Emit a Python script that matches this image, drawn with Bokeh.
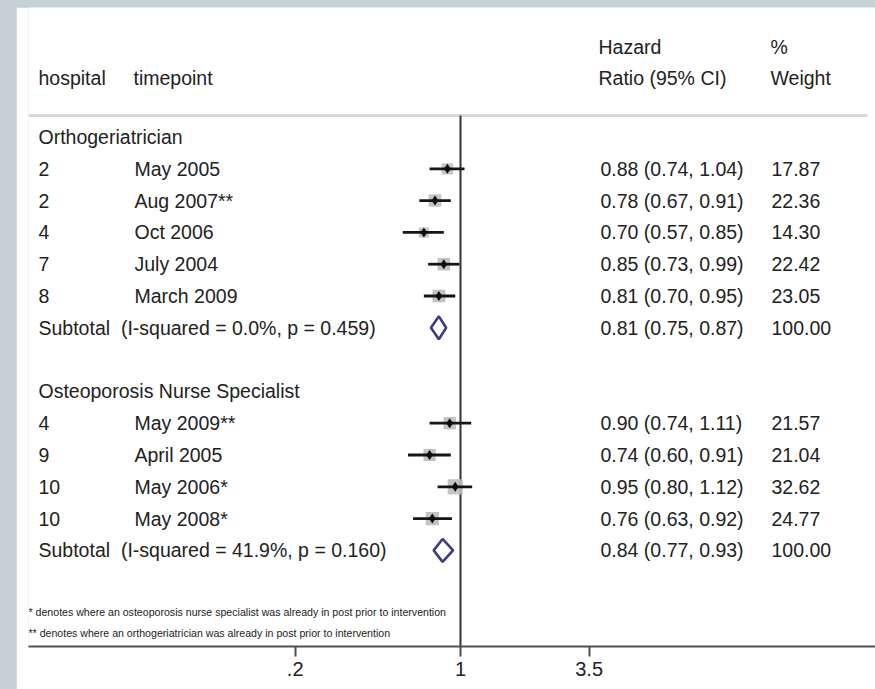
import numpy as np
from bokeh.plotting import figure
from bokeh.models import Range1d, FixedTicker, LinearScale
from bokeh.core.properties import value
from bokeh.embed import file_html
from bokeh.resources import INLINE

# ---------------- data ----------------
group_names = ["Orthogeriatrician", "Osteoporosis Nurse Specialist"]
group_sizes = [5, 4]
hospitals = ["2", "2", "4", "7", "8", "4", "9", "10", "10"]
timepoints = ["May 2005", "Aug 2007**", "Oct 2006", "July 2004", "March 2009",
              "May 2009**", "April 2005", "May 2006*", "May 2008*"]
hr = [0.88, 0.78, 0.70, 0.85, 0.81, 0.90, 0.74, 0.95, 0.76]
lo = [0.74, 0.67, 0.57, 0.73, 0.70, 0.74, 0.60, 0.80, 0.63]
hi = [1.04, 0.91, 0.85, 0.99, 0.95, 1.11, 0.91, 1.12, 0.92]
weights = [17.87, 22.36, 14.30, 22.42, 23.05, 21.57, 21.04, 32.62, 24.77]
sub_hr = [0.81, 0.84]
sub_lo = [0.75, 0.77]
sub_hi = [0.87, 0.93]
sub_i2 = [0.0, 41.9]
sub_p = [0.459, 0.160]
sub_weight = [100.00, 100.00]
tick_values = [0.2, 1, 3.5]
tick_labels = [".2", "1", "3.5"]
footnotes = ["* denotes where an osteoporosis nurse specialist was already in post prior to intervention",
             "** denotes where an orthogeriatrician was already in post prior to intervention"]

# ---------------- layout helpers ----------------
FONT = value("Liberation Sans")
TXT = "#222222"
W, H = 859, 682
OX, OY = 16, 7                 # page offset of the figure (grey border)
FR_L, FR_R, FR_T, FR_B = 28, 875, 7, 646   # frame in page pixels
X1PX, PX_PER_LN = 460.0, 102.7            # pixel of HR=1, pixels per ln unit
ROW0, ROWH = 136.5, 31.8                  # pixel of row 0, row height

def row_of(py):
    return (py - ROW0) / ROWH

x_left = float(np.exp((FR_L - X1PX) / PX_PER_LN))
x_right = float(np.exp((FR_R - X1PX) / PX_PER_LN))

p = figure(width=W, height=H, x_axis_type="log",
           x_range=Range1d(x_left, x_right),
           y_range=Range1d(row_of(FR_B), row_of(FR_T)),
           y_axis_location=None, output_backend="svg", toolbar_location=None,
           min_border_left=FR_L - OX, min_border_right=0, min_border_top=0,
           min_border_bottom=H - (FR_B - OY))
p.extra_x_ranges = {"px": Range1d(FR_L, FR_R)}
p.extra_x_scales = {"px": LinearScale()}
p.extra_y_ranges = {"px": Range1d(FR_B, FR_T)}
p.extra_y_scales = {"px": LinearScale()}
p.outline_line_color = None
p.xgrid.visible = False
p.ygrid.visible = False
p.background_fill_color = "white"
p.border_fill_color = "white"

# row indices
study_rows, sub_rows, title_rows = [], [], []
r = 0
for g, n in enumerate(group_sizes):
    title_rows.append(r)
    r += 1
    for _ in range(n):
        study_rows.append(r)
        r += 1
    sub_rows.append(r)
    r += 2

# header rule + reference line
p.segment(x0=[28], x1=[867], y0=[115], y1=[115], x_range_name="px", y_range_name="px",
          line_color="#dcd8d2", line_width=3)
p.segment(x0=[1], x1=[1], y0=[115], y1=[FR_B], y_range_name="px",
          line_color="#333333", line_width=2)

FS = "19.5px"

def txt(x, y, t, size=FS, yr="default"):
    p.text(x=x, y=y, text=t, x_range_name="px", y_range_name=yr, text_font=FONT,
           text_font_size=size, text_color=TXT, text_baseline="middle", text_align="left")

txt([598, 770], [46, 46], ["Hazard", "%"], yr="px")
txt([38, 133, 598, 770], [77] * 4, ["hospital", "timepoint", "Ratio (95% CI)", "Weight"], yr="px")

# group titles
txt([38] * len(group_names), title_rows, group_names)
# study rows text
txt([38] * len(hospitals), study_rows, hospitals)
txt([134] * len(timepoints), study_rows, timepoints)
txt([600] * len(hr), study_rows, [f"{a:.2f} ({b:.2f}, {c:.2f})" for a, b, c in zip(hr, lo, hi)])
txt([771] * len(weights), study_rows, [f"{w:.2f}" for w in weights])
# subtotal text
txt([38] * 2, sub_rows,
    [f"Subtotal\u00a0\u00a0(I-squared = {a:.1f}%, p = {b:.3f})" for a, b in zip(sub_i2, sub_p)])
txt([600] * 2, sub_rows, [f"{a:.2f} ({b:.2f}, {c:.2f})" for a, b, c in zip(sub_hr, sub_lo, sub_hi)])
txt([771] * 2, sub_rows, [f"{w:.2f}" for w in sub_weight])

# footnotes
txt([28, 28], [611, 632], footnotes, size="10.6px", yr="px")

# markers
p.scatter(x=hr, y=study_rows, size=[2.65 * np.sqrt(w) for w in weights], marker="square",
          fill_color="#bdbdbd", line_color=None, fill_alpha=0.9)
p.segment(x0=lo, x1=hi, y0=study_rows, y1=study_rows, line_color="#161616", line_width=2.8)
p.scatter(x=hr, y=study_rows, size=10, marker="diamond", fill_color="#0d0d0d", line_color=None)

DH = 0.36
p.patches(xs=[[a, b, c, b] for a, b, c in zip(sub_lo, sub_hr, sub_hi)],
          ys=[[y, y - DH, y, y + DH] for y in sub_rows],
          fill_color=None, line_color="#3f3d82", line_width=2.6)

# axis
ax = p.xaxis[0]
ax.ticker = FixedTicker(ticks=tick_values)
ax.major_label_overrides = {t: l for t, l in zip(tick_values, tick_labels)}
ax.minor_tick_line_color = None
ax.axis_line_color = "#505050"
ax.axis_line_width = 2
ax.major_tick_line_color = "#505050"
ax.major_tick_line_width = 2
ax.major_tick_in = 0
ax.major_tick_out = 10
ax.major_label_standoff = 5
ax.major_label_text_font = "Liberation Sans"
ax.major_label_text_font_size = "20px"
ax.major_label_text_color = TXT

html = file_html(p, INLINE, "Forest plot")
style = ("<style>html,body{background:#c5d0d7 !important;overflow:hidden;}"
         "body{margin:7px 0 0 16px !important;padding:0 !important;}</style>")
head, sep, tail = html.rpartition("</body>")
html = head + style + sep + tail
open("out.html", "w").write(html)
